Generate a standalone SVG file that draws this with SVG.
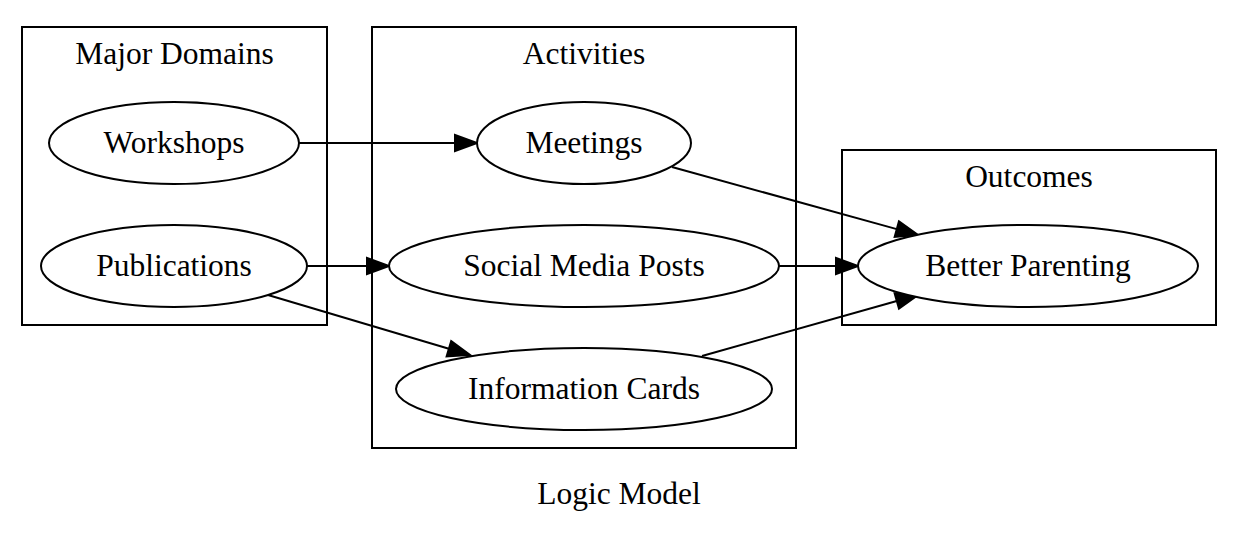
<svg xmlns="http://www.w3.org/2000/svg" width="1252" height="544" viewBox="0 0 1252 544">
<style>
.cl{fill:none;stroke:#000;stroke-width:2}
.nd{fill:#fff;stroke:#000;stroke-width:2}
.ed{fill:none;stroke:#000;stroke-width:2}
text{font-family:"Liberation Serif","Times New Roman",serif;font-size:31.5px;fill:#000;text-anchor:middle}
</style>
<defs>
<marker id="arr" markerUnits="userSpaceOnUse" markerWidth="24" markerHeight="18" refX="0" refY="8" orient="auto" overflow="visible">
<path d="M0,0 L22,8 L0,16 z" fill="#000" stroke="#000" stroke-width="2"/>
</marker>
</defs>
<rect width="1252" height="544" fill="#fff"/>
<g id="cluster_domains">
<rect class="cl" x="22" y="27" width="305" height="298"/>
<text x="174.5" y="64">Major Domains</text>
</g>
<g id="cluster_activities">
<rect class="cl" x="372" y="27" width="424" height="421"/>
<text x="584" y="64">Activities</text>
</g>
<g id="cluster_outcomes">
<rect class="cl" x="842" y="150" width="374" height="175"/>
<text x="1029" y="187">Outcomes</text>
</g>
<g id="edges">
<line class="ed" x1="299" y1="143" x2="455" y2="143" marker-end="url(#arr)"/>
<line class="ed" x1="307" y1="266" x2="367" y2="266" marker-end="url(#arr)"/>
<line class="ed" x1="268" y1="295" x2="448.9" y2="348.7" marker-end="url(#arr)"/>
<line class="ed" x1="672" y1="167" x2="896.8" y2="229.1" marker-end="url(#arr)"/>
<line class="ed" x1="779" y1="266" x2="836" y2="266" marker-end="url(#arr)"/>
<line class="ed" x1="702" y1="356" x2="896.8" y2="301" marker-end="url(#arr)"/>
</g>
<g id="workshops">
<ellipse class="nd" cx="174" cy="143" rx="125" ry="41"/>
<text x="174" y="153">Workshops</text>
</g>
<g id="publications">
<ellipse class="nd" cx="174" cy="266" rx="133" ry="41"/>
<text x="174" y="276">Publications</text>
</g>
<g id="meetings">
<ellipse class="nd" cx="584" cy="143" rx="107" ry="41"/>
<text x="584" y="153">Meetings</text>
</g>
<g id="social_media_posts">
<ellipse class="nd" cx="584" cy="266" rx="195" ry="41"/>
<text x="584" y="276">Social Media Posts</text>
</g>
<g id="information_cards">
<ellipse class="nd" cx="584" cy="389" rx="188" ry="41"/>
<text x="584" y="399">Information Cards</text>
</g>
<g id="better_parenting">
<ellipse class="nd" cx="1028" cy="266" rx="170" ry="41"/>
<text x="1028" y="276">Better Parenting</text>
</g>
<text x="619" y="504">Logic Model</text>
</svg>
